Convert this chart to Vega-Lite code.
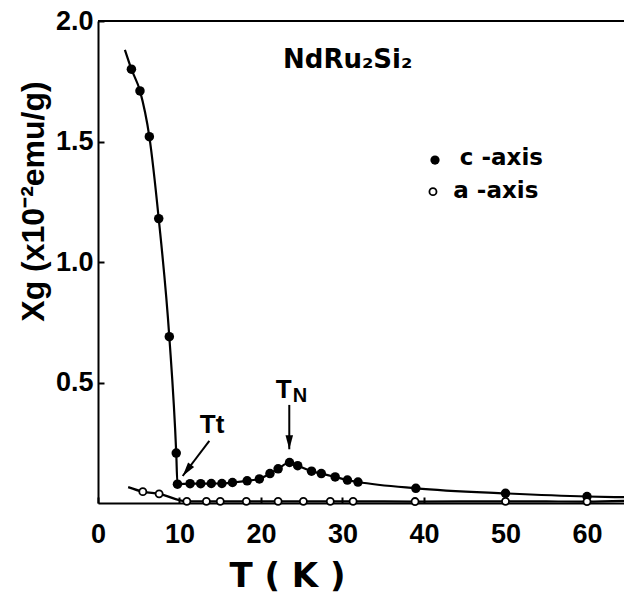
{
  "$schema": "https://vega.github.io/schema/vega-lite/v6.json",
  "autosize": {"type": "none"},
  "padding": {"left": 98, "top": 21, "right": 0, "bottom": 91},
  "width": 526,
  "height": 482,
  "background": "white",
  "config": {"view": {"stroke": null}, "font": "DejaVu Sans"},
  "datasets": {
    "meas": [
      {"series": "c-axis", "T": 3.3, "chi": 1.88, "marker": false},
      {"series": "c-axis", "T": 4.1, "chi": 1.80, "marker": true},
      {"series": "c-axis", "T": 5.15, "chi": 1.71, "marker": true},
      {"series": "c-axis", "T": 6.3, "chi": 1.52, "marker": true},
      {"series": "c-axis", "T": 7.45, "chi": 1.18, "marker": true},
      {"series": "c-axis", "T": 8.75, "chi": 0.69, "marker": true},
      {"series": "c-axis", "T": 9.6, "chi": 0.207, "marker": true},
      {"series": "c-axis", "T": 9.75, "chi": 0.078, "marker": true},
      {"series": "c-axis", "T": 11.3, "chi": 0.080, "marker": true},
      {"series": "c-axis", "T": 12.6, "chi": 0.080, "marker": true},
      {"series": "c-axis", "T": 13.9, "chi": 0.081, "marker": true},
      {"series": "c-axis", "T": 15.2, "chi": 0.081, "marker": true},
      {"series": "c-axis", "T": 16.5, "chi": 0.085, "marker": true},
      {"series": "c-axis", "T": 18.3, "chi": 0.092, "marker": true},
      {"series": "c-axis", "T": 19.8, "chi": 0.100, "marker": true},
      {"series": "c-axis", "T": 21.1, "chi": 0.122, "marker": true},
      {"series": "c-axis", "T": 22.1, "chi": 0.142, "marker": true},
      {"series": "c-axis", "T": 23.5, "chi": 0.168, "marker": true},
      {"series": "c-axis", "T": 24.5, "chi": 0.155, "marker": true},
      {"series": "c-axis", "T": 26.2, "chi": 0.132, "marker": true},
      {"series": "c-axis", "T": 27.4, "chi": 0.122, "marker": true},
      {"series": "c-axis", "T": 29.1, "chi": 0.108, "marker": true},
      {"series": "c-axis", "T": 30.6, "chi": 0.095, "marker": true},
      {"series": "c-axis", "T": 31.9, "chi": 0.087, "marker": true},
      {"series": "c-axis", "T": 39.0, "chi": 0.061, "marker": true},
      {"series": "c-axis", "T": 50.0, "chi": 0.040, "marker": true},
      {"series": "c-axis", "T": 60.0, "chi": 0.027, "marker": true},
      {"series": "c-axis", "T": 64.54, "chi": 0.024, "marker": false},
      {"series": "a-axis", "T": 3.7, "chi": 0.066, "marker": false},
      {"series": "a-axis", "T": 5.5, "chi": 0.047, "marker": true},
      {"series": "a-axis", "T": 7.5, "chi": 0.038, "marker": true},
      {"series": "a-axis", "T": 10.9, "chi": 0.007, "marker": true},
      {"series": "a-axis", "T": 13.3, "chi": 0.007, "marker": true},
      {"series": "a-axis", "T": 15.0, "chi": 0.007, "marker": true},
      {"series": "a-axis", "T": 18.2, "chi": 0.007, "marker": true},
      {"series": "a-axis", "T": 22.1, "chi": 0.007, "marker": true},
      {"series": "a-axis", "T": 25.2, "chi": 0.007, "marker": true},
      {"series": "a-axis", "T": 28.5, "chi": 0.007, "marker": true},
      {"series": "a-axis", "T": 31.3, "chi": 0.007, "marker": true},
      {"series": "a-axis", "T": 38.9, "chi": 0.006, "marker": true},
      {"series": "a-axis", "T": 50.0, "chi": 0.007, "marker": true},
      {"series": "a-axis", "T": 60.0, "chi": 0.006, "marker": true},
      {"series": "a-axis", "T": 64.54, "chi": 0.009, "marker": false}
    ],
    "arrows": [
      {"name": "Tt", "T": 13.66, "chi": 0.258, "T2": 10.39, "chi2": 0.112},
      {"name": "TN", "T": 23.47, "chi": 0.407, "T2": 23.47, "chi2": 0.223}
    ],
    "notes": [
      {"role": "title", "T": 22.7, "chi": 1.805, "text": "NdRu₂Si₂"},
      {"role": "legend", "T": 44.4, "chi": 1.402, "text": "c -axis"},
      {"role": "legend", "T": 43.6, "chi": 1.266, "text": "a -axis"},
      {"role": "label", "T": 12.5, "chi": 0.290, "text": "Tt"},
      {"role": "label", "T": 21.8, "chi": 0.436, "text": "T"},
      {"role": "sub", "T": 23.9, "chi": 0.418, "text": "N"}
    ],
    "keys": [
      {"series": "c-axis", "T": 41.35, "chi": 1.423},
      {"series": "a-axis", "T": 41.1, "chi": 1.292}
    ]
  },
  "encoding": {
    "x": {"field": "T", "type": "quantitative", "scale": {"domain": [0, 64.54], "nice": false, "zero": false},
      "axis": {"values": [0, 10, 20, 30, 40, 50, 60], "grid": false, "title": "T ( K )", "labelFlush": false,
        "domainColor": "black", "domainWidth": 2, "tickColor": "black", "tickWidth": 2, "tickSize": -6,
        "labelFont": "Liberation Sans", "labelFontWeight": "bold", "labelFontSize": 27, "labelColor": "black", "labelPadding": 24,
        "titleFont": "DejaVu Sans", "titleFontWeight": "bold", "titleFontSize": 34, "titleColor": "black",
        "titleX": 189, "titleY": 73, "titleBaseline": "middle", "titleAlign": "center", "titleAnchor": null}},
    "y": {"field": "chi", "type": "quantitative", "scale": {"domain": [0, 2.0], "nice": false},
      "axis": {"values": [0.5, 1.0, 1.5, 2.0], "format": ".1f", "grid": false, "title": "Xg (x10⁻²emu/g)", "labelFlush": false,
        "domainColor": "black", "domainWidth": 2, "tickColor": "black", "tickWidth": 2, "tickSize": -6,
        "labelFont": "Liberation Sans", "labelFontWeight": "bold", "labelFontSize": 27, "labelColor": "black", "labelPadding": 11,
        "titleFont": "Liberation Sans", "titleFontWeight": "bold", "titleFontSize": 32, "titleColor": "black",
        "titleX": -55, "titleY": 180, "titleBaseline": "alphabetic", "titleAlign": "center", "titleAngle": -90, "titleAnchor": null}}
  },
  "layer": [
    {
      "data": {"values": [{"chi": 2.0}]},
      "mark": {"type": "rule", "color": "black", "strokeWidth": 2},
      "encoding": {"x": null, "y": {"field": "chi", "type": "quantitative"}}
    },
    {
      "data": {"name": "meas"},
      "mark": {"type": "line", "color": "black", "strokeWidth": 2.2, "interpolate": "monotone"},
      "encoding": {"detail": {"field": "series"}}
    },
    {
      "data": {"name": "meas"},
      "transform": [{"filter": "datum.marker && datum.series === 'c-axis'"}],
      "mark": {"type": "point", "filled": true, "color": "black", "size": 90, "opacity": 1}
    },
    {
      "data": {"name": "meas"},
      "transform": [{"filter": "datum.marker && datum.series === 'a-axis'"}],
      "mark": {"type": "point", "filled": true, "fill": "white", "stroke": "black", "strokeWidth": 1.8, "size": 50, "opacity": 1}
    },
    {
      "data": {"name": "arrows"},
      "mark": {"type": "rule", "color": "black", "strokeWidth": 2},
      "encoding": {"x2": {"field": "T2"}, "y2": {"field": "chi2"}}
    },
    {
      "data": {"name": "arrows"},
      "transform": [{"filter": "datum.name === 'TN'"}],
      "mark": {"type": "point", "shape": "M0,0L-0.27,-1L0.27,-1Z", "filled": true, "color": "black", "size": 784, "angle": 0, "opacity": 1},
      "encoding": {"x": {"field": "T2", "type": "quantitative"}, "y": {"field": "chi2", "type": "quantitative"}}
    },
    {
      "data": {"name": "arrows"},
      "transform": [{"filter": "datum.name === 'Tt'"}],
      "mark": {"type": "point", "shape": "M0,0L-0.27,-1L0.27,-1Z", "filled": true, "color": "black", "size": 784, "angle": 37, "opacity": 1},
      "encoding": {"x": {"field": "T2", "type": "quantitative"}, "y": {"field": "chi2", "type": "quantitative"}}
    },
    {
      "data": {"name": "notes"},
      "transform": [{"filter": "datum.role === 'title'"}],
      "mark": {"type": "text", "align": "left", "baseline": "alphabetic", "font": "DejaVu Sans", "fontWeight": "bold", "fontSize": 26, "color": "black"},
      "encoding": {"text": {"field": "text"}}
    },
    {
      "data": {"name": "notes"},
      "transform": [{"filter": "datum.role === 'legend'"}],
      "mark": {"type": "text", "align": "left", "baseline": "alphabetic", "font": "DejaVu Sans", "fontWeight": "bold", "fontSize": 23, "color": "black"},
      "encoding": {"text": {"field": "text"}}
    },
    {
      "data": {"name": "notes"},
      "transform": [{"filter": "datum.role === 'label'"}],
      "mark": {"type": "text", "align": "left", "baseline": "alphabetic", "font": "Liberation Sans", "fontWeight": "bold", "fontSize": 26, "color": "black"},
      "encoding": {"text": {"field": "text"}}
    },
    {
      "data": {"name": "notes"},
      "transform": [{"filter": "datum.role === 'sub'"}],
      "mark": {"type": "text", "align": "left", "baseline": "alphabetic", "font": "Liberation Sans", "fontWeight": "bold", "fontSize": 20, "color": "black"},
      "encoding": {"text": {"field": "text"}}
    },
    {
      "data": {"name": "keys"},
      "transform": [{"filter": "datum.series === 'c-axis'"}],
      "mark": {"type": "point", "filled": true, "color": "black", "size": 85, "opacity": 1}
    },
    {
      "data": {"name": "keys"},
      "transform": [{"filter": "datum.series === 'a-axis'"}],
      "mark": {"type": "point", "filled": true, "fill": "white", "stroke": "black", "strokeWidth": 1.8, "size": 50, "opacity": 1}
    }
  ]
}
